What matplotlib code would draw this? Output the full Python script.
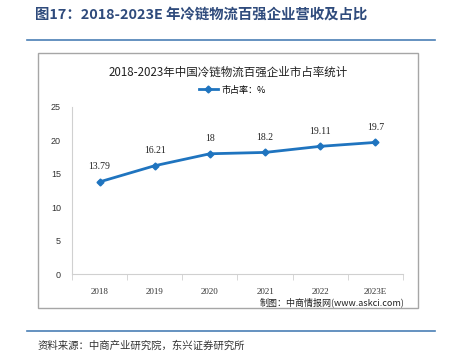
import numpy as np
import matplotlib.pyplot as plt
from matplotlib.patches import Rectangle
from matplotlib.lines import Line2D

plt.rcParams['font.family'] = ['Noto Sans CJK SC', 'DejaVu Sans']

# Donnees
years = ['2018', '2019', '2020', '2021', '2022', '2023E']
share = [13.79, 16.21, 18.0, 18.2, 19.11, 19.7]
labels = ['13.79', '16.21', '18', '18.2', '19.11', '19.7']
yticks = [0, 5, 10, 15, 20, 25]

BLUE = '#1f74bf'
W, H = 452, 353
fig = plt.figure(figsize=(W / 100, H / 100), dpi=100)

# titre du document
fig.text(35 / W, 1 - 15 / H, '图17：2018-2023E 年冷链物流百强企业营收及占比',
         fontsize=10.4, fontweight='bold', color='#2f4b7c', va='center', ha='left')
fig.add_artist(Line2D([27 / W, 435 / W], [1 - 40 / H, 1 - 40 / H], color='#4a7fb5', lw=1.2))
fig.add_artist(Line2D([27 / W, 435 / W], [1 - 331 / H, 1 - 331 / H], color='#4a7fb5', lw=1.2))

# cadre du graphique
fig.add_artist(Rectangle((38 / W, 1 - 308 / H), 380 / W, 255 / H, transform=fig.transFigure,
                         fill=False, edgecolor='#a6a6a6', lw=1.0))
fig.text(228 / W, 1 - 72 / H, '2018-2023年中国冷链物流百强企业市占率统计',
         fontsize=8.3, color='#222222', ha='center', va='center')

ax = fig.add_axes([72 / W, 1 - 274 / H, 331 / W, 167 / H])
x = np.arange(len(years))
ax.plot(x, share, color=BLUE, lw=2, marker='D', ms=3.5, label='市占率：%')
for xi, yi, lab in zip(x, share, labels):
    ax.annotate(lab, (xi, yi), xytext=(0, 11), textcoords='offset points',
                ha='center', va='center', fontsize=7, family='Liberation Serif', color='#222222')

ax.set_xlim(-0.5, len(years) - 0.5)
ax.set_ylim(0, 25)
ax.set_yticks(yticks)
ax.set_yticklabels([str(v) for v in yticks], fontsize=6.5, family='Liberation Sans', color='#333333')
ax.set_xticks(x)
ax.set_xticklabels(years, fontsize=6.5, family='Liberation Serif', color='#333333')
ax.set_xticks(np.arange(-0.5, len(years)), minor=True)
ax.tick_params(axis='x', which='major', length=0, pad=10)
ax.tick_params(axis='x', which='minor', length=4, color='#d0d0d0')
ax.tick_params(axis='y', length=0, pad=8)
for s in ['top', 'right']:
    ax.spines[s].set_visible(False)
for s in ['left', 'bottom']:
    ax.spines[s].set_color('#d0d0d0')
ax.patch.set_alpha(0)

leg = fig.legend(handles=ax.get_lines(), loc='center', bbox_to_anchor=(232 / W, 1 - 90 / H),
                 frameon=False, fontsize=6.5, handlelength=2.2, handletextpad=0.3)

fig.text(405 / W, 1 - 302 / H, '制图：中商情报网(www.askci.com)', fontsize=6.5,
         color='#222222', ha='right', va='center')

# source en bas
fig.text(38 / W, 1 - 346 / H, '资料来源：中商产业研究院，东兴证券研究所', fontsize=7.5,
         color='#333333', ha='left', va='center')

fig.savefig('out.png', dpi=100)
